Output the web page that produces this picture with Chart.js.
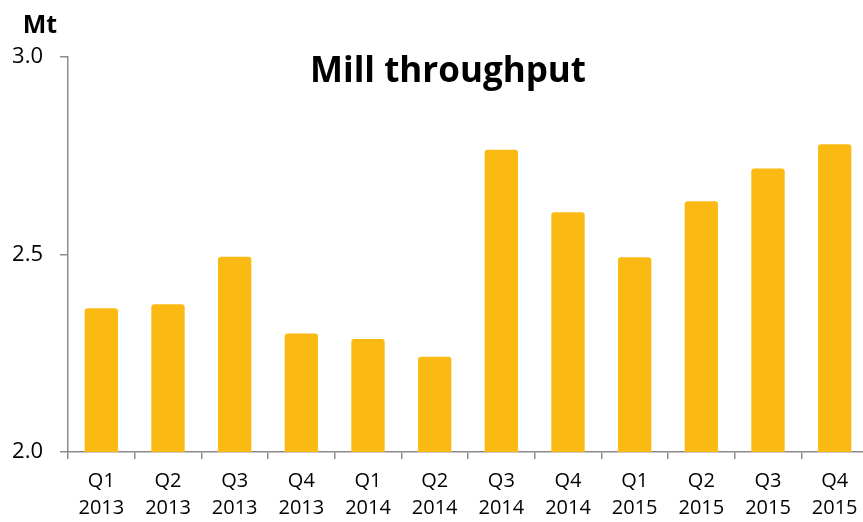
<!DOCTYPE html>
<html>
<head>
<meta charset="utf-8">
<script src="https://cdn.jsdelivr.net/npm/chart.js@4/dist/chart.umd.min.js"></script>
<style>
  html, body { margin: 0; padding: 0; background: #fff; overflow: hidden; }
  #wrap { position: absolute; left: 0; top: 0; width: 868px; height: 522px; }
</style>
</head>
<body>
<div id="wrap"><canvas id="myChart"></canvas></div>
<script>
const quarters = ['Q1', 'Q2', 'Q3', 'Q4', 'Q1', 'Q2', 'Q3', 'Q4', 'Q1', 'Q2', 'Q3', 'Q4'];
const years = ['2013', '2013', '2013', '2013', '2014', '2014', '2014', '2014', '2015', '2015', '2015', '2015'];
const throughput = [2.364, 2.374, 2.494, 2.300, 2.286, 2.241, 2.765, 2.607, 2.493, 2.635, 2.718, 2.779];
const yTicks = [2.0, 2.5, 3.0];

const labels = quarters.map((q, i) => [q, years[i]]);
const fontFamily = "'Open Sans', 'Noto Sans', sans-serif";

// title and unit label drawn on top of the plot
const textPlugin = {
  id: 'extraText',
  afterDraw(chart) {
    const ctx = chart.ctx;
    ctx.save();
    ctx.fillStyle = '#000';
    ctx.textBaseline = 'alphabetic';
    ctx.textAlign = 'center';
    ctx.font = 'bold 35px ' + fontFamily;
    ctx.fillText('Mill throughput', 448, 82);
    ctx.font = 'bold 25px ' + fontFamily;
    ctx.fillText('Mt', 40, 33);
    ctx.restore();
  }
};

const ctx = document.getElementById('myChart').getContext('2d');
new Chart(ctx, {
  type: 'bar',
  data: {
    labels: labels,
    datasets: [{
      label: 'Mill throughput',
      data: throughput,
      backgroundColor: '#FBB914',
      borderRadius: 3,
      borderSkipped: 'bottom',
      categoryPercentage: 1,
      barPercentage: 0.5
    }]
  },
  options: {
    responsive: true,
    maintainAspectRatio: false,
    animation: false,
    layout: { padding: { top: 57, right: 0, left: 0, bottom: 0 } },
    plugins: {
      legend: { display: false },
      tooltip: { enabled: false },
      title: { display: false }
    },
    scales: {
      x: {
        offset: true,
        grid: {
          offset: true,
          drawOnChartArea: false,
          drawTicks: true,
          tickLength: 7,
          color: '#8c8c8c',
          lineWidth: 1.5
        },
        border: { color: '#8c8c8c', width: 1.5 },
        ticks: {
          color: '#000',
          padding: 9,
          maxRotation: 0,
          autoSkip: false,
          font: { family: fontFamily, size: 20, lineHeight: 1.35 }
        },
        afterFit(scale) { scale.height = 70; }
      },
      y: {
        min: 2,
        max: 3,
        afterBuildTicks(scale) { scale.ticks = yTicks.map(v => ({ value: v })); },
        grid: {
          drawOnChartArea: false,
          tickLength: 8,
          color: '#8c8c8c',
          lineWidth: 1.5
        },
        border: { color: '#8c8c8c', width: 1.5 },
        ticks: {
          color: '#000',
          padding: 17,
          callback: v => v.toFixed(1),
          font: { family: fontFamily, size: 22 }
        },
        afterFit(scale) { scale.width = 68; }
      }
    }
  },
  plugins: [textPlugin]
});
</script>
</body>
</html>
